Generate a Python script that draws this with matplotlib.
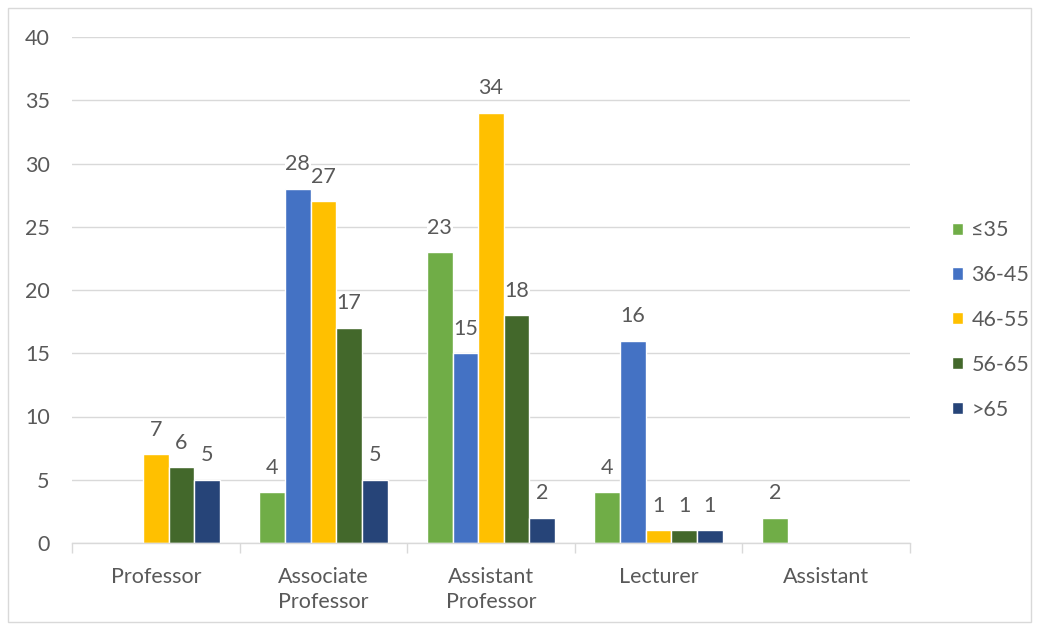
import numpy as np
import matplotlib
matplotlib.use("Agg")
import matplotlib.pyplot as plt
from matplotlib.patches import Rectangle

# data (nan = no bar)
categories = ["Professor", "Associate\nProfessor", "Assistant\nProfessor", "Lecturer", "Assistant"]
groups = ["≤35", "36-45", "46-55", "56-65", ">65"]
le35 = [np.nan, 4, 23, 4, 2]
a36_45 = [np.nan, 28, 15, 16, np.nan]
a46_55 = [7, 27, 34, 1, np.nan]
a56_65 = [6, 17, 18, 1, np.nan]
gt65 = [5, 5, 2, 1, np.nan]
series = [le35, a36_45, a46_55, a56_65, gt65]
colors = ["#70AD47", "#4472C4", "#FFC000", "#43682B", "#264478"]

plt.rcParams['font.family'] = ['Lato', 'DejaVu Sans']
txt = "#595959"
fs = 15.5

fig = plt.figure(figsize=(10.39, 6.30), dpi=100)
fig.patches.append(Rectangle((8/1039, 8/630), 1 - 16/1039, 1 - 16/630, transform=fig.transFigure,
                             fill=False, edgecolor="#D9D9D9", linewidth=1))
ax = fig.add_axes([72/1039, 1 - 543/630, (910 - 72)/1039, (543 - 37)/630])

x = np.arange(len(categories))
w = 0.153
for i, (vals, c) in enumerate(zip(series, colors)):
    pos = x + (i - 2) * w
    v = np.array(vals, dtype=float)
    ax.bar(pos, np.nan_to_num(v), width=w, color=c, edgecolor="white", linewidth=1, zorder=2,
           label=groups[i])
    for p, val in zip(pos, v):
        if np.isnan(val):
            continue
        ax.text(p, val + 1.15, "%d" % val, ha="center", va="bottom", fontsize=fs, color=txt,
                zorder=1.5, bbox=dict(facecolor="white", edgecolor="none", pad=0.5))

ax.set_xlim(-0.5, len(categories) - 0.5)
ax.set_ylim(0, 40)
ax.set_yticks(range(0, 41, 5))
ax.yaxis.grid(True, color="#D9D9D9", linewidth=1, zorder=0)
ax.set_axisbelow(True)
for s in ["top", "right", "left"]:
    ax.spines[s].set_visible(False)
ax.spines["bottom"].set_color("#D9D9D9")
ax.spines["bottom"].set_linewidth(1)

ax.set_xticks(x)
ax.set_xticklabels(categories, fontsize=fs, color=txt, linespacing=1.35)
ax.set_xticks(np.arange(-0.5, len(categories)), minor=True)
ax.tick_params(axis="x", which="major", length=0, pad=17)
ax.tick_params(axis="x", which="minor", length=7, color="#D9D9D9", width=1)
ax.tick_params(axis="y", length=0, labelsize=fs, labelcolor=txt, pad=16)

handles, labels = ax.get_legend_handles_labels()
fig.legend(handles, labels, loc="center left", bbox_to_anchor=(952/1039, 1 - 320/630),
           borderaxespad=0, borderpad=0, frameon=False, fontsize=fs, labelcolor=txt,
           handlelength=0.5, handleheight=0.5, handletextpad=0.4, labelspacing=1.15)

fig.savefig("out.png", dpi=100)
